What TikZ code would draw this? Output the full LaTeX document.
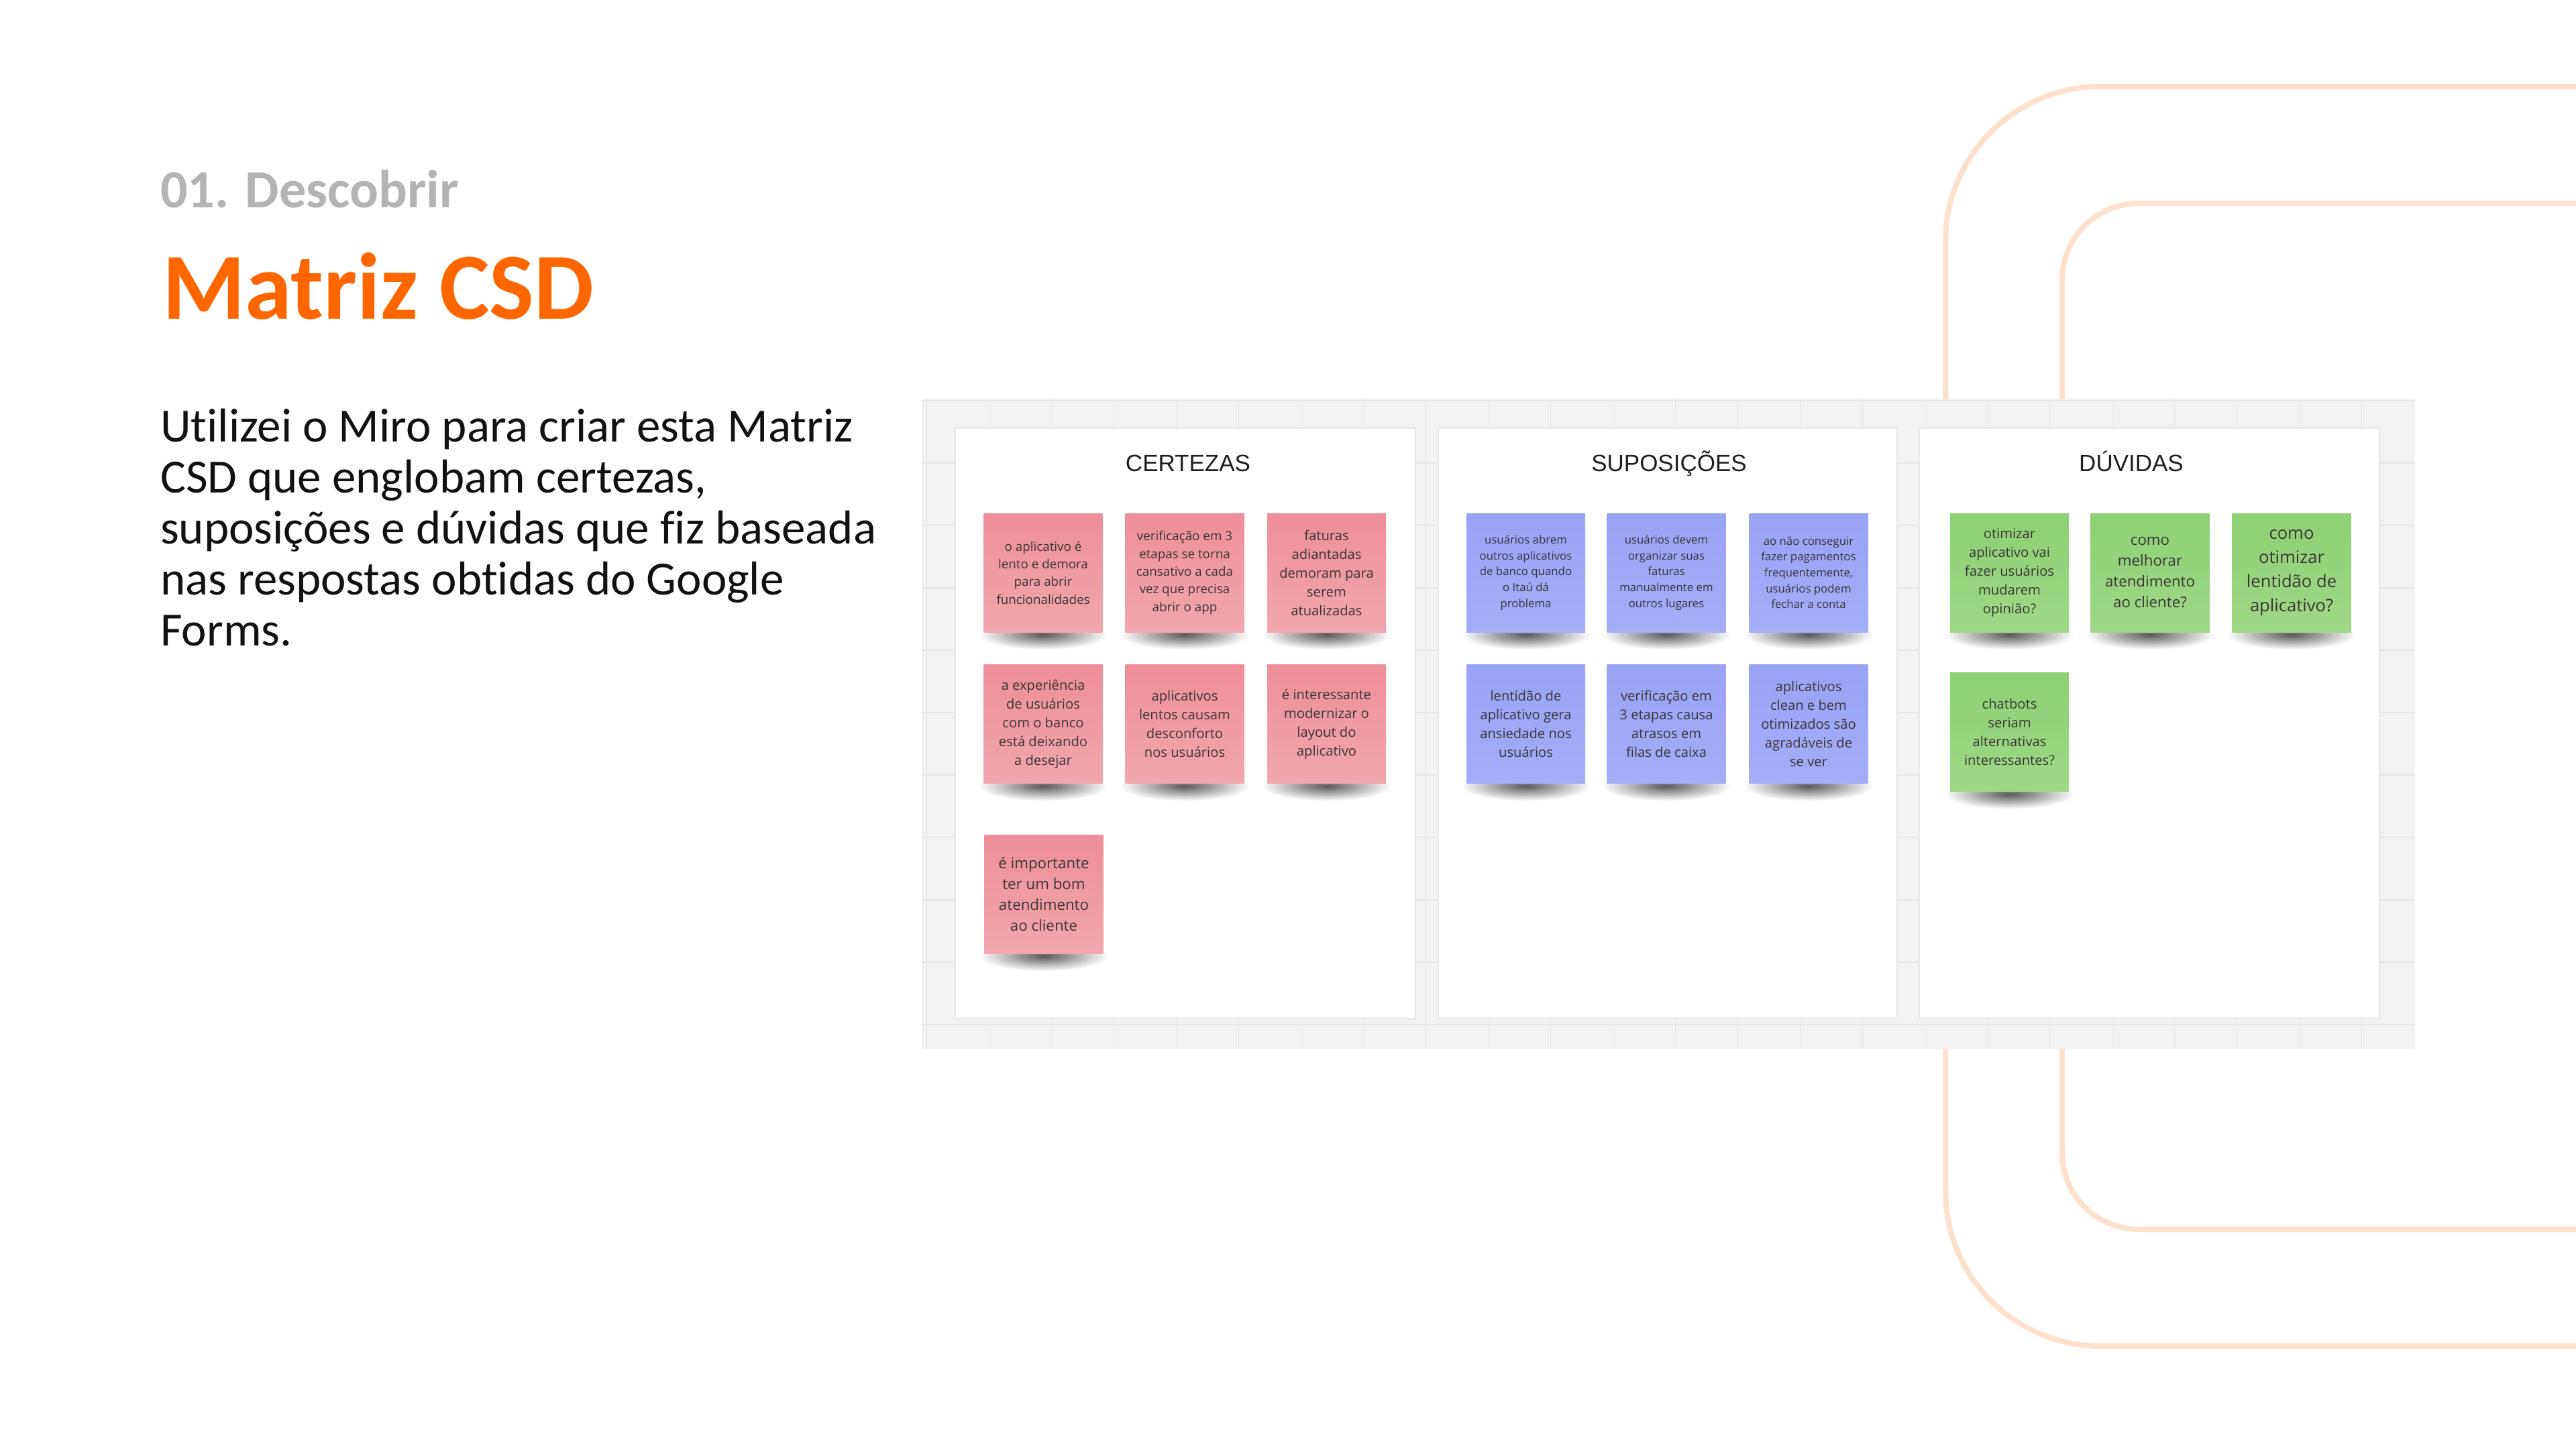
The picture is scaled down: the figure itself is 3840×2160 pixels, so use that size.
\documentclass[tikz,border=0pt]{standalone}
\usepackage{fontspec}
\setmainfont{Carlito}[Ligatures=NoCommon]
\newfontfamily\notefont{Open Sans}
\newfontfamily\titlefont{Liberation Sans}
\usetikzlibrary{fadings}
\definecolor{orangeT}{HTML}{FF6600}
\definecolor{grayT}{HTML}{B4B4B4}
\definecolor{bodyT}{HTML}{111111}
\definecolor{peach}{HTML}{FDE0CE}
\definecolor{boardbg}{HTML}{F2F2F2}
\definecolor{gridc}{HTML}{E4E4E4}
\definecolor{panelb}{HTML}{E6E6E6}
\definecolor{pinkT}{HTML}{EE8E9A}
\definecolor{pinkB}{HTML}{F2A6AF}
\definecolor{blueT}{HTML}{9AA2F6}
\definecolor{blueB}{HTML}{A5ACF8}
\definecolor{greenT}{HTML}{8DD075}
\definecolor{greenB}{HTML}{9ED887}
\definecolor{notetext}{HTML}{3A3536}
\definecolor{titleT}{HTML}{1E1E1E}
\tikzfading[name=shfade, inner color=transparent!35, outer color=transparent!100]
\tikzset{
  notebox/.style={minimum width=177pt, minimum height=177pt, inner sep=0pt, align=center, text=notetext},
  pinknote/.style={notebox, top color=pinkT, bottom color=pinkB},
  bluenote/.style={notebox, top color=blueT, bottom color=blueB},
  greennote/.style={notebox, top color=greenT, bottom color=greenB},
  fsA/.style={font=\notefont\fontsize{18.8}{26.4}\selectfont},
  fsB/.style={font=\notefont\fontsize{20.2}{28}\selectfont},
  fsC/.style={font=\notefont\fontsize{22.3}{31}\selectfont},
  fsD/.style={font=\notefont\fontsize{16.8}{23.6}\selectfont},
  fsE/.style={font=\notefont\fontsize{25.6}{36}\selectfont},
  paneltitle/.style={anchor=base, inner sep=0pt, text=titleT, font=\titlefont\fontsize{35}{40}\selectfont},
  bodyline/.style={anchor=base west, inner sep=0pt, text=bodyT, font=\fontsize{71}{76}\selectfont},
  peachline/.style={draw=peach, line width=8pt},
  panel/.style={fill=white, draw=panelb, line width=1.5pt}
}
\newcommand{\sticky}[5]{%
  \fill[black, path fading=shfade] (#2-96,#3+88.5-18) rectangle (#2+96,#3+88.5+26);
  \node[#4] (#1) at (#2,#3) {#5};
}
\begin{document}
\begin{tikzpicture}[x=1pt,y=-1pt]
\useasboundingbox (0,0) rectangle (3840,2160);
\fill[white] (0,0) rectangle (3840,2160);
% decorative peach lines
\draw[peachline, rounded corners=231pt] (3850,129) -- (2900,129) -- (2900,2006) -- (3850,2006);
\draw[peachline, rounded corners=114pt] (3850,303) -- (3074,303) -- (3074,1832) -- (3850,1832);
% left texts
\node[anchor=base west, inner sep=0pt, text=grayT, font=\bfseries\fontsize{80}{90}\selectfont] (step) at (239,309) {01. Descobrir};
\node[anchor=base west, inner sep=0pt, text=orangeT, font=\bfseries\fontsize{141}{150}\selectfont] (title) at (242,475) {Matriz CSD};
\node[bodyline] (l1) at (239,658) {Utilizei o Miro para criar esta Matriz};
\node[bodyline] (l2) at (239,734) {CSD que englobam certezas,};
\node[bodyline] (l3) at (239,810) {suposições e dúvidas que fiz baseada};
\node[bodyline] (l4) at (239,886) {nas respostas obtidas do Google};
\node[bodyline] (l5) at (239,962) {Forms.};
% board
\fill[boardbg] (1374,594) rectangle (3600,1563);
\begin{scope}
\clip (1374,594) rectangle (3600,1563);
\foreach \gx in {0,...,23} \draw[gridc, line width=1.5pt] ({1381.5+93*\gx},594) -- ({1381.5+93*\gx},1563);
\foreach \gy in {0,...,10} \draw[gridc, line width=1.5pt] (1374,{597+93*\gy}) -- (3600,{597+93*\gy});
\end{scope}
\draw[panel] (1424,638) rectangle (2110,1518);
\draw[panel] (2144,638) rectangle (2828,1518);
\draw[panel] (2861,638) rectangle (3547,1518);
\node[paneltitle] (tC) at (1771,702) {CERTEZAS};
\node[paneltitle] (tS) at (2488,702) {SUPOSIÇÕES};
\node[paneltitle] (tD) at (3177,702) {DÚVIDAS};
% CERTEZAS
\sticky{c1}{1555}{853.5}{pinknote,fsA}{o aplicativo é\\lento e demora\\para abrir\\funcionalidades}
\sticky{c2}{1766}{853.5}{pinknote,fsA}{verificação em 3\\etapas se torna\\cansativo a cada\\vez que precisa\\abrir o app}
\sticky{c3}{1977.5}{853.5}{pinknote,fsB}{faturas\\adiantadas\\demoram para\\serem\\atualizadas}
\sticky{c4}{1555}{1079}{pinknote,fsB}{a experiência\\de usuários\\com o banco\\está deixando\\a desejar}
\sticky{c5}{1766}{1079}{pinknote,fsB}{aplicativos\\lentos causam\\desconforto\\nos usuários}
\sticky{c6}{1977.5}{1079}{pinknote,fsB}{é interessante\\modernizar o\\layout do\\aplicativo}
\sticky{c7}{1556}{1332.5}{pinknote,fsC}{é importante\\ter um bom\\atendimento\\ao cliente}
% SUPOSICOES
\sticky{s1}{2274.5}{853.5}{bluenote,fsD}{usuários abrem\\outros aplicativos\\de banco quando\\o Itaú dá\\problema}
\sticky{s2}{2484}{853.5}{bluenote,fsD}{usuários devem\\organizar suas\\faturas\\manualmente em\\outros lugares}
\sticky{s3}{2696}{853.5}{bluenote,fsD}{ao não conseguir\\fazer pagamentos\\frequentemente,\\usuários podem\\fechar a conta}
\sticky{s4}{2274.5}{1079}{bluenote,fsB}{lentidão de\\aplicativo gera\\ansiedade nos\\usuários}
\sticky{s5}{2484}{1079}{bluenote,fsB}{verificação em\\3 etapas causa\\atrasos em\\filas de caixa}
\sticky{s6}{2696}{1079}{bluenote,fsB}{aplicativos\\clean e bem\\otimizados são\\agradáveis de\\se ver}
% DUVIDAS
\sticky{d1}{2995.5}{853.5}{greennote,fsB}{otimizar\\aplicativo vai\\fazer usuários\\mudarem\\opinião?}
\sticky{d2}{3205}{853.5}{greennote,fsC}{como\\melhorar\\atendimento\\ao cliente?}
\sticky{d3}{3416}{853.5}{greennote,fsE}{como\\otimizar\\lentidão de\\aplicativo?}
\sticky{d4}{2995.5}{1091}{greennote,fsB}{chatbots\\seriam\\alternativas\\interessantes?}
\end{tikzpicture}
\end{document}
